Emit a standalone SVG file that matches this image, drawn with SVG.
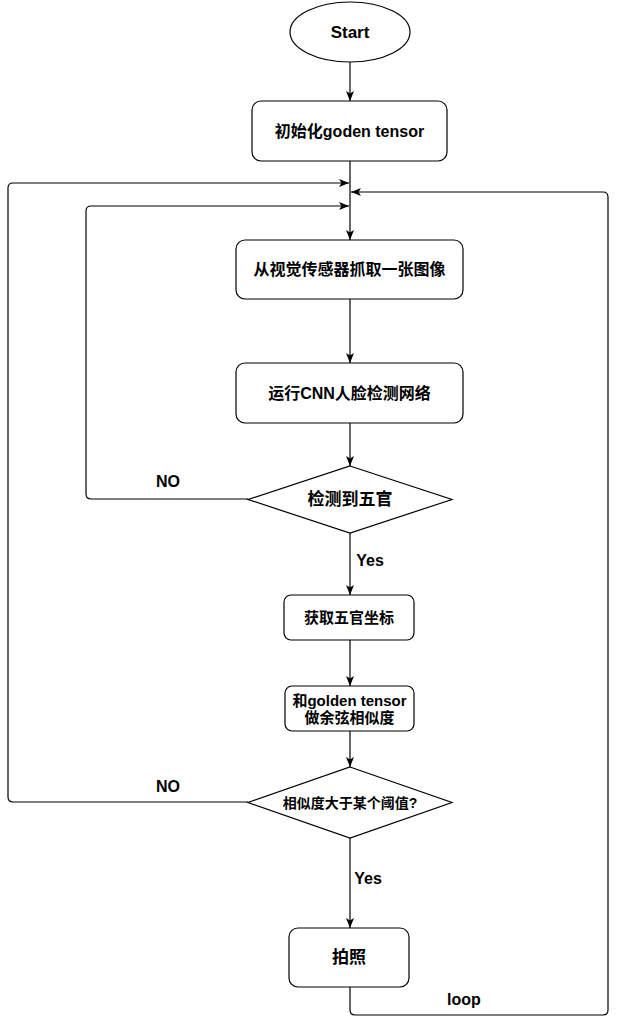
<svg xmlns="http://www.w3.org/2000/svg" width="619" height="1025" viewBox="0 0 619 1025">
<style>
.n{fill:#fff;stroke:#000;stroke-width:1.2}
.t{font-family:"Liberation Sans","Noto Sans CJK SC",sans-serif;font-weight:bold;fill:#000;text-anchor:middle;dominant-baseline:central}
.e{fill:none;stroke:#000;stroke-width:1.2}
</style>
<defs>
<marker id="a" markerUnits="userSpaceOnUse" markerWidth="10" markerHeight="10" viewBox="0 0 10 10" refX="10" refY="5" orient="auto">
<path d="M0,1 L10,5 L0,9 L2.5,5 z" fill="#000"/>
</marker>
</defs>
<rect width="619" height="1025" fill="#fff"/>
<g id="edges">
<path class="e" d="M350,62 V101" marker-end="url(#a)"/>
<path class="e" d="M350,161 V240" marker-end="url(#a)"/>
<path class="e" d="M350,299 V363" marker-end="url(#a)"/>
<path class="e" d="M350,423 V466" marker-end="url(#a)"/>
<path class="e" d="M350,533 V595" marker-end="url(#a)"/>
<path class="e" d="M350,640 V686" marker-end="url(#a)"/>
<path class="e" d="M350,731 V767" marker-end="url(#a)"/>
<path class="e" d="M350,838 V928" marker-end="url(#a)"/>
<path class="e" d="M248,499 H91 Q86,499 86,494 V211 Q86,206 91,206 H349" marker-end="url(#a)"/>
<path class="e" d="M248,802 H13 Q8,802 8,797 V188 Q8,183 13,183 H349" marker-end="url(#a)"/>
<path class="e" d="M350,987 V1010 Q350,1015 355,1015 H603 Q608,1015 608,1010 V197 Q608,192 603,192 H351" marker-end="url(#a)"/>
<text class="t" x="168" y="481" font-size="16">NO</text>
<text class="t" x="370" y="560" font-size="16">Yes</text>
<text class="t" x="168" y="786" font-size="16">NO</text>
<text class="t" x="368" y="878" font-size="16">Yes</text>
<text class="t" x="464" y="999" font-size="16">loop</text>
</g>
<g id="start">
<ellipse class="n" cx="350" cy="32" rx="60" ry="30"/>
<text class="t" x="350" y="32" font-size="17">Start</text>
</g>
<g id="init">
<rect class="n" x="252" y="101" width="195" height="60" rx="9"/>
<text class="t" x="349.5" y="131" font-size="16">初始化goden tensor</text>
</g>
<g id="capture">
<rect class="n" x="236" y="240" width="227" height="59" rx="9"/>
<text class="t" x="349.5" y="269.5" font-size="16">从视觉传感器抓取一张图像</text>
</g>
<g id="cnn">
<rect class="n" x="236" y="363" width="227" height="60" rx="9"/>
<text class="t" x="349.5" y="393" font-size="16">运行CNN人脸检测网络</text>
</g>
<g id="detect">
<polygon class="n" points="350,466 452,499.5 350,533 248,499.5"/>
<text class="t" x="350" y="499.5" font-size="17">检测到五官</text>
</g>
<g id="coords">
<rect class="n" x="284" y="595" width="130" height="45" rx="7"/>
<text class="t" x="349" y="617.5" font-size="15">获取五官坐标</text>
</g>
<g id="cosine">
<rect class="n" x="285" y="686" width="129" height="45" rx="7"/>
<text class="t" x="349.5" y="700.5" font-size="15">和golden tensor</text>
<text class="t" x="349.5" y="717.5" font-size="15">做余弦相似度</text>
</g>
<g id="threshold">
<polygon class="n" points="350,767 452,802.5 350,838 248,802.5"/>
<text class="t" x="350" y="802.5" font-size="14">相似度大于某个阈值?</text>
</g>
<g id="photo">
<rect class="n" x="289" y="928" width="120" height="59" rx="9"/>
<text class="t" x="349" y="957.5" font-size="17">拍照</text>
</g>
</svg>
